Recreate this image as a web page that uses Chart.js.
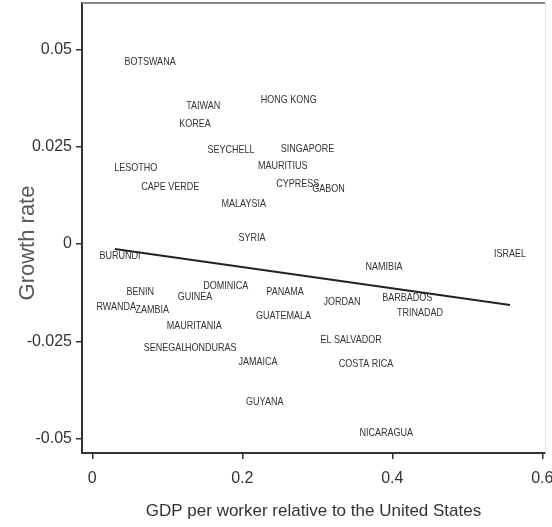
<!DOCTYPE html>
<html>
<head>
<meta charset="utf-8">
<script src="https://cdn.jsdelivr.net/npm/chart.js@4.4.1/dist/chart.umd.min.js"></script>
<style>
  html, body { margin: 0; padding: 0; background: #fff; }
  #wrap { width: 552px; height: 527px; }
</style>
</head>
<body>
<div id="wrap"><canvas id="growthChart" width="552" height="527"></canvas></div>
<script>
// countries and values
var countries = ["BOTSWANA", "TAIWAN", "KOREA", "HONG KONG", "SEYCHELL", "SINGAPORE",
  "LESOTHO", "MAURITIUS", "CAPE VERDE", "CYPRESS", "GABON", "MALAYSIA", "SYRIA",
  "BURUNDI", "ISRAEL", "NAMIBIA", "BENIN", "DOMINICA", "GUINEA", "PANAMA", "RWANDA",
  "ZAMBIA", "JORDAN", "BARBADOS", "TRINADAD", "GUATEMALA", "MAURITANIA", "SENEGAL",
  "HONDURAS", "JAMAICA", "EL SALVADOR", "COSTA RICA", "GUYANA", "NICARAGUA"];
var gdpRel = [0.077, 0.148, 0.137, 0.262, 0.185, 0.287,
  0.058, 0.254, 0.104, 0.274, 0.315, 0.202, 0.213,
  0.037, 0.557, 0.389, 0.064, 0.178, 0.137, 0.257, 0.032,
  0.080, 0.333, 0.420, 0.437, 0.255, 0.136, 0.097,
  0.158, 0.221, 0.345, 0.365, 0.230, 0.392];
var growth = [0.0468, 0.0355, 0.0308, 0.0370, 0.0242, 0.0244,
  0.0195, 0.0200, 0.0146, 0.0154, 0.0141, 0.0103, 0.0015,
  -0.0031, -0.0026, -0.0059, -0.0123, -0.0108, -0.0136, -0.0123, -0.0162,
  -0.0170, -0.0149, -0.0139, -0.0177, -0.0185, -0.0211, -0.0267,
  -0.0267, -0.0303, -0.0247, -0.0308, -0.0406, -0.0486];
// fitted line end points
var fitX = [0.030, 0.557];
var fitY = [-0.0013, -0.0157];
var xTicks = [0, 0.2, 0.4, 0.6];
var yTicks = [-0.05, -0.025, 0, 0.025, 0.05];

var tickFont = { family: "'Liberation Sans', Arial, sans-serif", size: 16 };

// country names written where the points are (squeezed, like a narrow font)
var labelPlugin = {
  id: "countryLabels",
  afterDatasetsDraw: function (chart) {
    var ctx = chart.ctx;
    var meta = chart.getDatasetMeta(0);
    ctx.save();
    ctx.font = "11px 'Liberation Sans', Arial, sans-serif";
    ctx.fillStyle = "#333";
    ctx.textAlign = "center";
    ctx.textBaseline = "middle";
    meta.data.forEach(function (pt, i) {
      ctx.save();
      ctx.translate(pt.x, pt.y);
      ctx.scale(0.82, 1);
      ctx.fillText(countries[i], 0, 0);
      ctx.restore();
    });
    ctx.restore();
  }
};

// top and right edges of the plot box, y title
var framePlugin = {
  id: "frame",
  afterDraw: function (chart) {
    var a = chart.chartArea;
    var ctx = chart.ctx;
    ctx.save();
    ctx.strokeStyle = "#8a8a8a";
    ctx.lineWidth = 2;
    ctx.beginPath();
    ctx.moveTo(a.left, a.top);
    ctx.lineTo(a.right, a.top);
    ctx.stroke();
    ctx.strokeStyle = "#e6e6e6";
    ctx.lineWidth = 1;
    ctx.beginPath();
    ctx.moveTo(a.right + 0.5, a.top);
    ctx.lineTo(a.right + 0.5, a.bottom);
    ctx.stroke();

    ctx.translate(28, (a.top + a.bottom) / 2 + 15);
    ctx.rotate(-Math.PI / 2);
    ctx.font = "22px 'Liberation Sans', Arial, sans-serif";
    ctx.fillStyle = "#5a5a5a";
    ctx.textAlign = "center";
    ctx.textBaseline = "middle";
    ctx.fillText("Growth rate", 0, 0);
    ctx.restore();
  }
};

var ctx = document.getElementById("growthChart").getContext("2d");
new Chart(ctx, {
  type: "scatter",
  data: {
    datasets: [
      {
        label: "countries",
        data: gdpRel.map(function (x, i) { return { x: x, y: growth[i] }; }),
        pointRadius: 0,
        pointHoverRadius: 0,
        showLine: false
      },
      {
        label: "fit",
        data: fitX.map(function (x, i) { return { x: x, y: fitY[i] }; }),
        showLine: true,
        borderColor: "#222",
        borderWidth: 2,
        pointRadius: 0,
        fill: false
      }
    ]
  },
  options: {
    responsive: false,
    animation: false,
    events: [],
    layout: { padding: { top: 3, right: 7, left: 0, bottom: 0 } },
    plugins: { legend: { display: false }, tooltip: { enabled: false } },
    scales: {
      x: {
        type: "linear",
        min: -0.0137,
        max: 0.6036,
        afterBuildTicks: function (s) { s.ticks = xTicks.map(function (v) { return { value: v }; }); },
        afterFit: function (s) { s.height = 74; s.paddingLeft = 0; s.paddingRight = 0; },
        border: { display: true, color: "#333", width: 2 },
        grid: { display: true, drawOnChartArea: false, drawTicks: true, tickLength: 6, color: "#333", lineWidth: 1.5 },
        ticks: {
          color: "#333",
          font: tickFont,
          padding: 10,
          maxRotation: 0,
          autoSkip: false,
          callback: function (v) { return String(v); }
        },
        title: {
          display: true,
          text: "GDP per worker relative to the United States",
          color: "#333",
          font: { family: "'Liberation Sans', Arial, sans-serif", size: 17 },
          padding: { top: 0, bottom: 5 }
        }
      },
      y: {
        type: "linear",
        min: -0.0537,
        max: 0.0619,
        afterBuildTicks: function (s) { s.ticks = yTicks.map(function (v) { return { value: v }; }); },
        afterFit: function (s) { s.width = 82; s.paddingTop = 0; s.paddingBottom = 0; },
        border: { display: true, color: "#333", width: 2 },
        grid: { display: true, drawOnChartArea: false, drawTicks: true, tickLength: 6, color: "#333", lineWidth: 1.5 },
        ticks: {
          color: "#333",
          font: tickFont,
          padding: 4,
          autoSkip: false,
          callback: function (v) { return String(v); }
        }
      }
    }
  },
  plugins: [labelPlugin, framePlugin]
});
</script>
</body>
</html>
